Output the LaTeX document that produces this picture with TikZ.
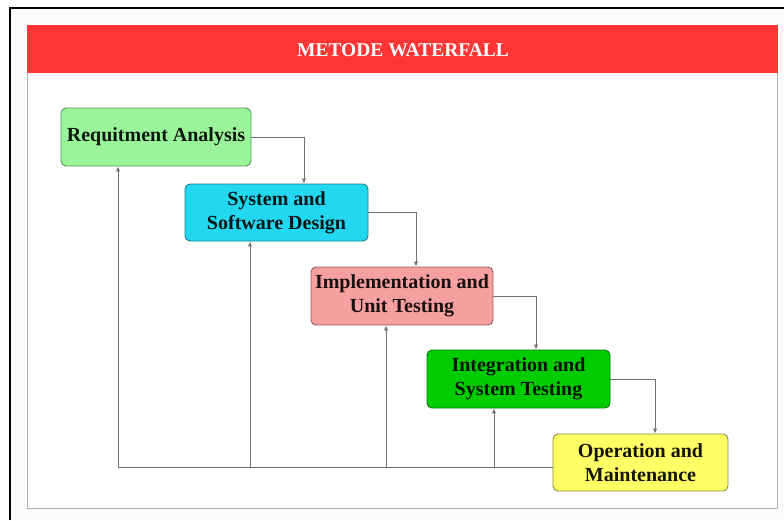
\documentclass[tikz,border=0pt]{standalone}
\usepackage{fontspec}
\setmainfont{Liberation Serif}
\usetikzlibrary{arrows.meta,calc}
\definecolor{redband}{HTML}{FF3434}
\definecolor{fillA}{HTML}{9AF59A}
\definecolor{fillB}{HTML}{22D8F0}
\definecolor{fillC}{HTML}{F7A0A0}
\definecolor{fillD}{HTML}{00CC00}
\definecolor{fillE}{HTML}{FFFF66}
\definecolor{lineg}{HTML}{707070}
\definecolor{outerbg}{HTML}{FBFCFE}
\tikzset{
  stepbox/.style={draw, rounded corners=5pt, line width=0.9pt, align=center,
    font=\fontsize{20}{24}\selectfont\bfseries, inner sep=0pt, anchor=center},
  conn/.style={draw=lineg, line width=1pt, -{Latex[length=5pt,width=4.5pt]}},
}
\begin{document}
\begin{tikzpicture}[x=1pt,y=-1pt]
\useasboundingbox (0,0) rectangle (784,520);
\fill[white] (0,0) rectangle (784,520);
\fill[outerbg] (11,9) rectangle (784,520);
\draw[black, line width=2pt] (10,520) -- (10,8) -- (784,8);
% inner panel
\draw[fill=white, draw=black!30, line width=1pt] (27,25) rectangle (777,508);
\fill[redband] (27,25) rectangle (778,73);
\node[text=white, font=\fontsize{19.5}{22}\selectfont\bfseries] (title) at (403,50) {METODE WATERFALL};
% boxes
\node[stepbox, fill=fillA, draw=fillA!60!black, text=fillA!10!black, minimum width=190, minimum height=58] (b1) at (156,137) {Requitment Analysis};
\node[stepbox, fill=fillB, draw=fillB!60!black, text=fillB!10!black, minimum width=183, minimum height=57] (b2) at (276.5,212.5) {System and\\Software Design};
\node[stepbox, fill=fillC, draw=fillC!60!black, text=fillC!10!black, minimum width=182, minimum height=58] (b3) at (402,296) {Implementation and\\Unit Testing};
\node[stepbox, fill=fillD, draw=fillD!60!black, text=fillD!10!black, minimum width=183, minimum height=58] (b4) at (518.5,379) {Integration and\\System Testing};
\node[stepbox, fill=fillE, draw=fillE!55!black, text=fillE!8!black, minimum width=175, minimum height=57] (b5) at (640.5,462.5) {Operation and\\Maintenance};
% forward connectors
\draw[conn] (b1.east) -| ([xshift=27.5pt]b2.north);
\draw[conn] (b2.east) -| ([xshift=14pt]b3.north);
\draw[conn] (b3.east) -| ([xshift=17.5pt]b4.north);
\draw[conn] (b4.east) -| ([xshift=14.5pt]b5.north);
% feedback connectors
\coordinate (fb) at ([yshift=-4.5pt]b5.west);
\coordinate (f1) at ([xshift=-38pt]b1.south);
\coordinate (f2) at ([xshift=-26.5pt]b2.south);
\coordinate (f3) at ([xshift=-16pt]b3.south);
\coordinate (f4) at ([xshift=-24.5pt]b4.south);
\draw[conn] (fb) -| (f1);
\draw[conn] (f2 |- fb) -- (f2);
\draw[conn] (f3 |- fb) -- (f3);
\draw[conn] (f4 |- fb) -- (f4);
\end{tikzpicture}
\end{document}
